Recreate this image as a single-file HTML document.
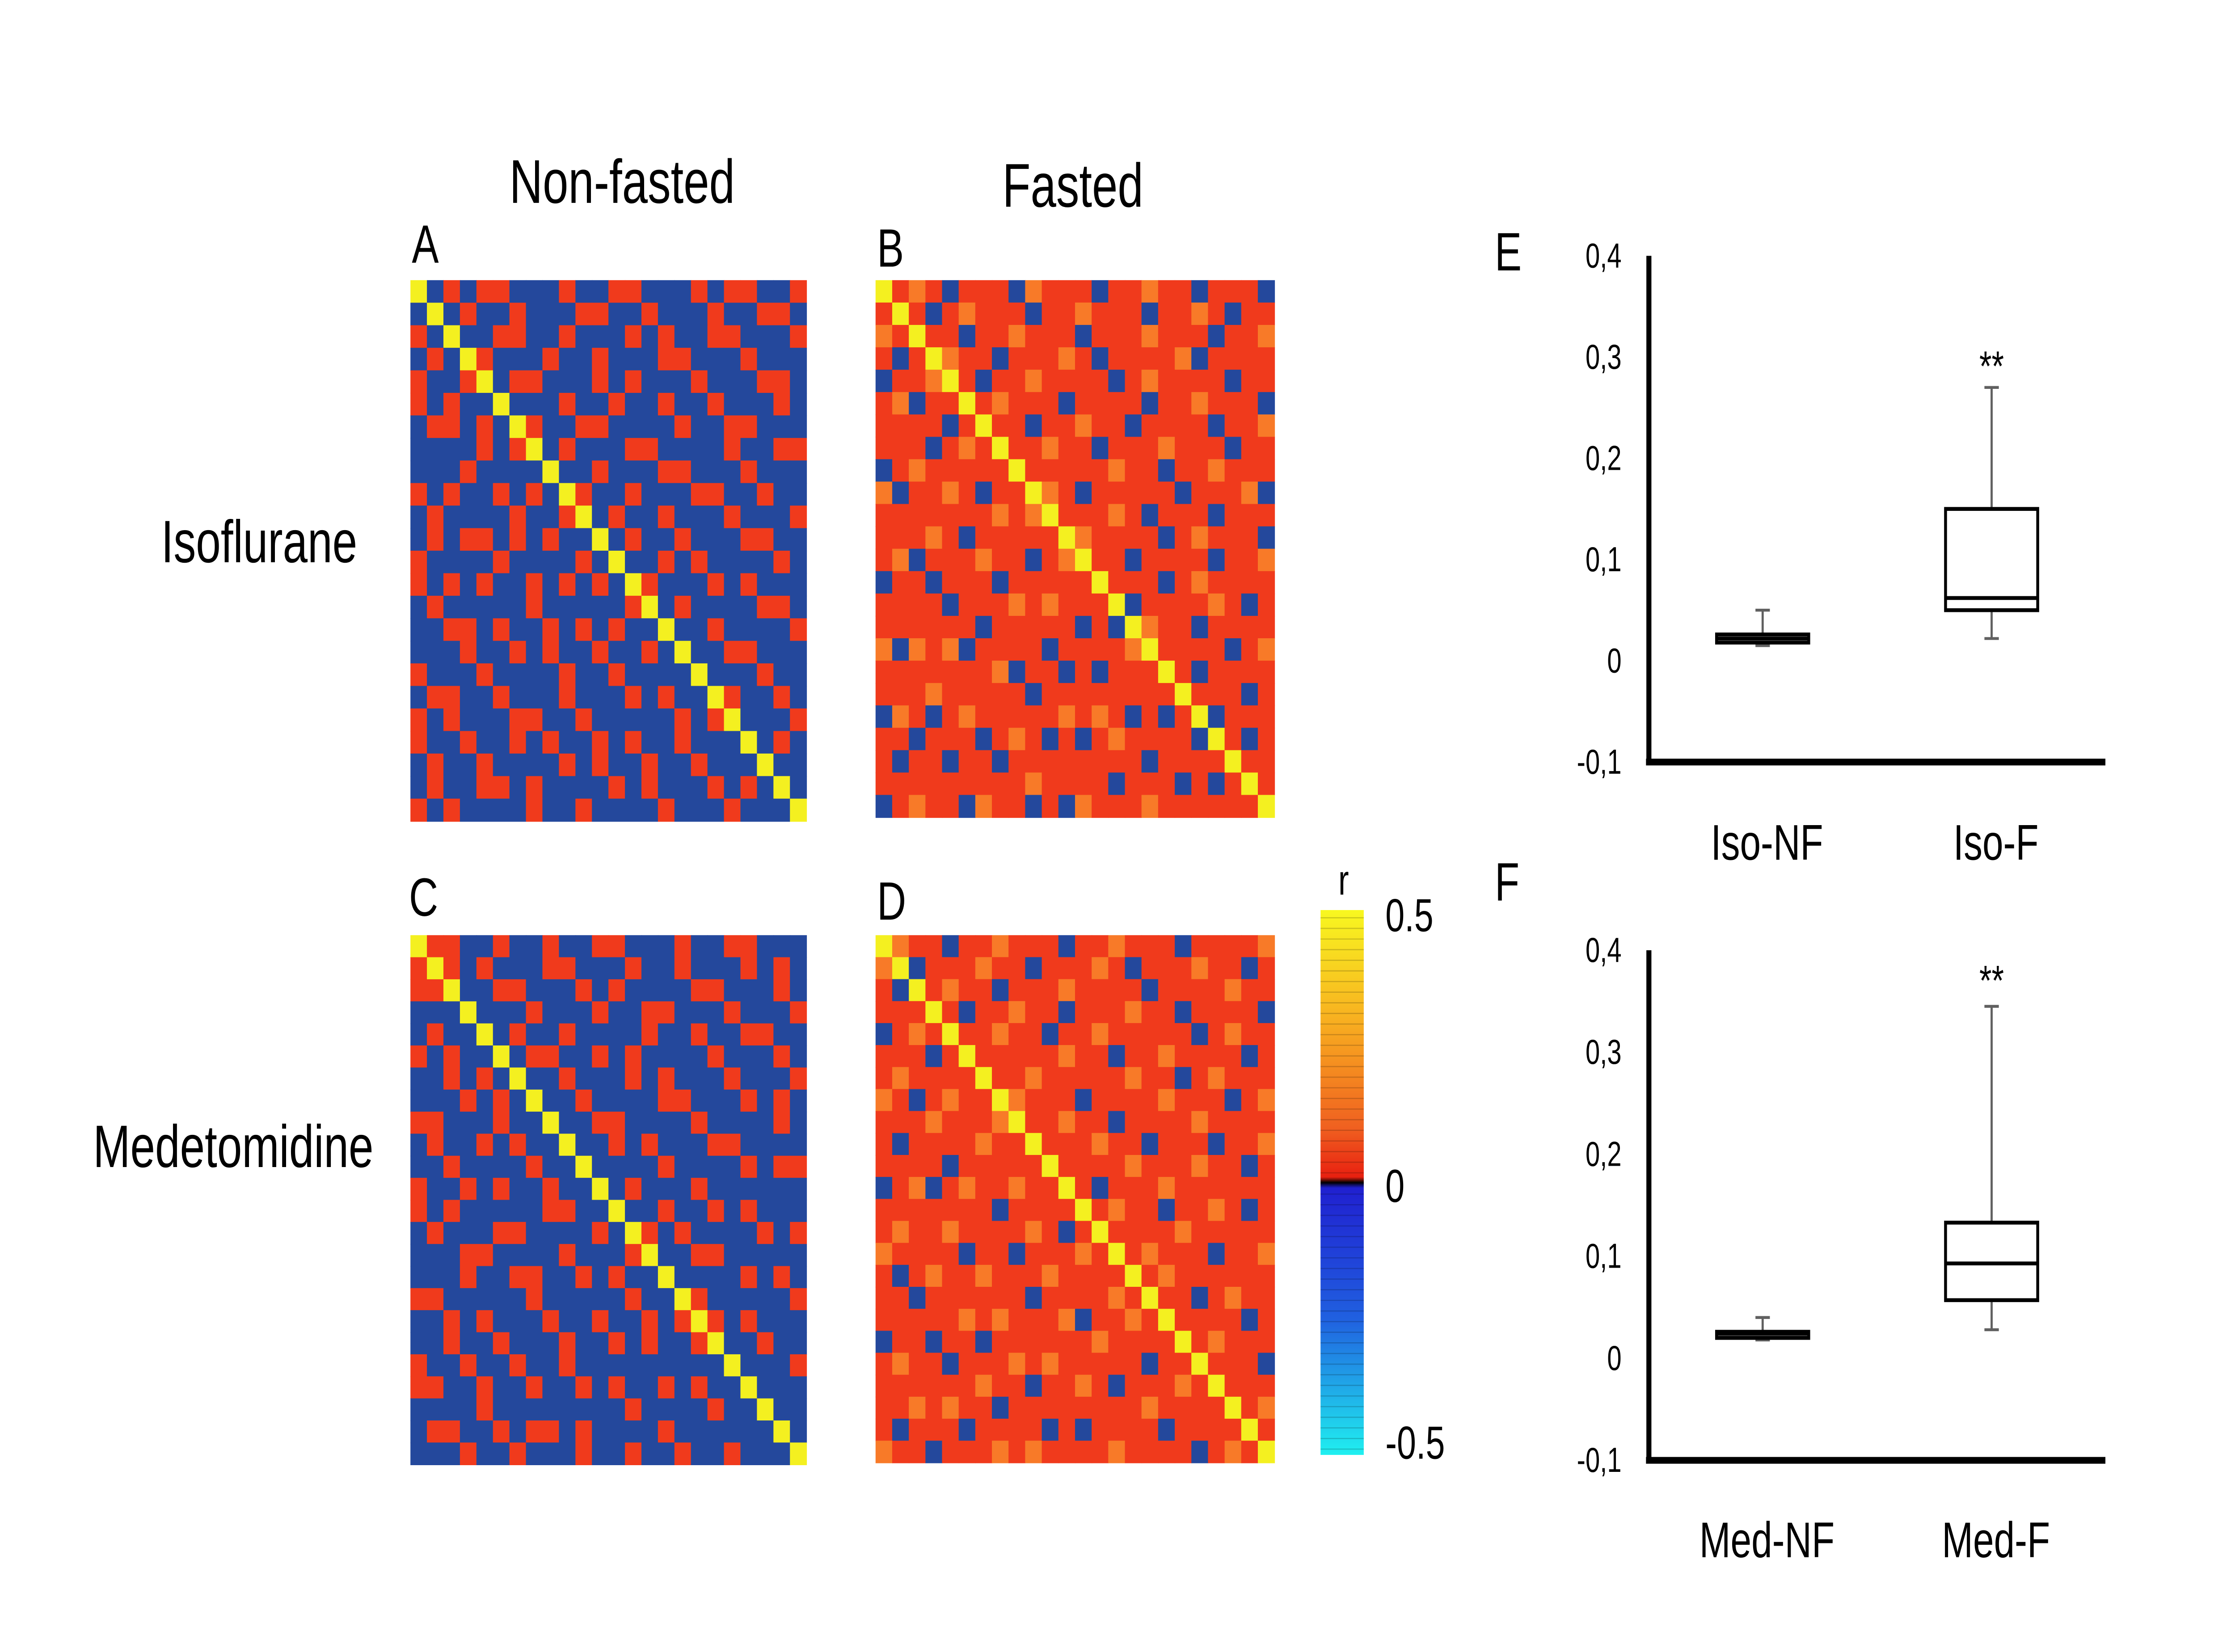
<!DOCTYPE html>
<html><head><meta charset="utf-8">
<style>
html,body{margin:0;padding:0;background:#fff;overflow:hidden;width:100%;height:100%;}
svg{display:block;position:fixed;left:0;top:0;width:100vw;height:100vh;}
text{font-family:"Liberation Sans",sans-serif;}
</style></head>
<body>
<svg id="fig" viewBox="0 0 1552 855" preserveAspectRatio="none" xmlns="http://www.w3.org/2000/svg">
<defs>
<linearGradient id="cbar" x1="0" y1="0" x2="0" y2="1">
<stop offset="0" stop-color="#f8f820"/>
<stop offset="0.2" stop-color="#f8b020"/>
<stop offset="0.4" stop-color="#f06020"/>
<stop offset="0.49" stop-color="#e82010"/>
<stop offset="0.5" stop-color="#000"/>
<stop offset="0.51" stop-color="#2020d0"/>
<stop offset="0.75" stop-color="#2060e0"/>
<stop offset="1" stop-color="#20f0f0"/>
</linearGradient>
</defs>
<rect width="1552" height="855" fill="#fff"/>
<text x="432" y="105" font-size="32" text-anchor="middle">Non-fasted</text>
<text x="745" y="107" font-size="32" text-anchor="middle">Fasted</text>
<text x="180" y="291" font-size="31" text-anchor="middle">Isoflurane</text>
<text x="162" y="604" font-size="31" text-anchor="middle">Medetomidine</text>
<text x="286" y="136" font-size="28">A</text>
<text x="609" y="138" font-size="28">B</text>
<text x="284" y="474" font-size="28">C</text>
<text x="609" y="476" font-size="28">D</text>
<text x="1038" y="140" font-size="28">E</text>
<text x="1038" y="466" font-size="28">F</text>
<g id="heatmaps"></g>
<g>
<rect x="917" y="471" width="30" height="282" fill="url(#cbar)"/>
<g id="cbstripes"></g>
<text x="933" y="463" font-size="22" text-anchor="middle">r</text>
<text x="962" y="482" font-size="24">0.5</text>
<text x="962" y="622" font-size="24">0</text>
<text x="962" y="755" font-size="24">-0.5</text>
</g>
<g id="boxE"></g>
<g id="boxF"></g>
</svg>
<script>
// heatmap data: b=-0.2, c=-0.1, r=0.15, o=0.3 (diagonal = 1)
const heatA = [
"bbrbrrbbbrbbrrbbbrbrrbbr","rbbrbbrbbbrrbbrbbbrbbrrb","brbbbrrbbrbbbrbrbbrrbbbr","rrbbrbbbrbbrbbbrrbbbrbbb",
"bbrbbbrrbbbrbrbbbrbbbrrb","rbbrrbbbbrbbrbbrbbrbbbrb","bbrbbrbrbbrrbbbbrbbrrbbb","brbbbbrbbrbbbrrbbbbrbbrr",
"rbbrbrbbrbbrbbbrrbbbrbbb","bbrbbbrbbbrbbrbbbrrbbrbb","brbbrbbrrbbbrbbrbbbrbbbr","rbrbbbrbbrbbbrbbrbbbrrbb",
"bbbrrbbbrbbrbbbrbrbbbbrb","brbbbrbrbbbbrbrbbbrbrbbb","rbbrbbbbrrbbbrbbrbbbbrrb","bbrbrbrbbbrbbbbrbbrbbbbr",
"brbbbbrbbrbbrbbbrbbrrbbb","rbbrbrbbbbrbbrbbbrbbbrbb","bbrbbbrrbbbrbbrbbbbrbbrb","brbbrbbbrbbbrbbrbrbbbbbr",
"rbbrbbrbbrbbbrbbbrbrbbrb","bbrbbrbbbrrbbbrbbbbrbrbb","brbrbbbrbbbrbbbrrbbbbbrb","rbbbrbbrbrbbrbbbbrbbrbbb"];
const heatB = [
"rrorbrrrborrrbrrorrbrrrb","rrrbrorrrbrrorrrbrrorbrr","orrrrbrrorrrbrrrorrrbrro","rbrrorrbrrrorbrrrrobrrrr",
"rrorrrbrrorrrrbrorrrrbrr","brrrbrrorrrbrrrrbrrorrrb","rrbrrorrrbrrorrbrrrrbrro","rorrrbrrrrorrbrrrorrrbrr",
"rrrbrrorbrrrrrorrbrrorrr","brorrrrbrrorbrrrrrbrrrob","rrrrbrorrrbrrrorbrrrbrrr","rbrorrrrbrrrorrrrbrorrrb",
"orrrrbrrrorbrrrbrrrrbrro","rrbrorrbrrrrrorrrbrorrrr","rrrrrbrorrbrrrrbrrrrorbr","brrorrrrbrrorbrrorrbrrrr",
"rrrbrrorrrbrrrrrbrrrrbro","rorrrbrrborrrbrorrrbrrrr","rrbrrrrorrrbrrrrbrorrrbr","brrrorbrrrrrorbrrrrrbrrr",
"rrorrrrrbrorrrrbrrorrrbr","rbrrbrorrrrbrorrrrbrrorr","orrrrrbrrorrrbrrorrrbrrr","rrbrorrrbrrrrrrbrrrorrbr"];
const heatC = [
"brrbbrbbrbbrrbbbrbbrrbbb","bbrbrbbbrrbbbrbbrbbbrbrb","rbbbbrrbbbrbrbbbbrrbbbrb","brbrbbbrbbbrbbrrbbbrbbbr",
"rbbbrbrbbrbbbbrbbrbbrrbb","bbrbbbbrrbbrbrbbbbrbbbrb","rbbrrbbbbrbbbrbrbbbrbbbr","bbbbbrbrbbrbbbbrrbbbrbrb",
"brbrbbbbrbbrrbbbbrbbbbrb","rbbbrbrbbbbbrbrbbbrrbbbb","bbrbbbbrbrbbbbbrbbbbrbrr","brbbrbbbrbbrbrbbbrbbbbbb",
"rbbbbrbrbbbbrbbrbbrbrbbb","bbrbrbbbbrbbbbrbrbbbbrbr","brbbbbrbrbbrbbbbbrrbbbbb","rbbrbbbbbrbbrbrbbbbbrbrb",
"bbbbrbrbbbrbbbbrbrbbbbbr","brbrbbbrbbbbrbbbbbrbrbbb","rbbbbrbbrbrbbbrbbbbbbrbb","bbrbbbbrbbbbbrbrbrbbbbbr",
"brbbrbrbbbrbbbbbbrbbrbbb","rbbbbbbrbrbbrbbrbbbbbrbb","bbrbrbbbbbbrbbbbrbrbbbrb","brbbbrbbrbbbbrbbbbbrbbbr"];
const heatD = [
"rorrbrrorrrbrrorrrbrrrro","rrbrrrorrbrrrorbrrrorrbr","orrrorrbrrrorrrrbrrrrorr","rbrrrbrrorrbrrrorrbrrrrb",
"rrorrrrorrbrrorrrrrbrorr","rrrbrorrrrrorrbrrorrrrbr","brrrrrbrrorrrrrorrbrorrr","rrorbrrrorrrbrrrrorrrbro",
"rrrrrorrbrrorrbrrrrorrrr","orbrrrrorrrrrorrbrrrbrro","rrrrorbrrrbrrrrorrrorrbr","rbrrrrrrorrorbrrrorrrrrr",
"rrorbrrorrrrrrorrbrrorbr","orrrrrbrrorbrrrrrrorrrrr","rrbrorrrrrrrorbrorrrbrro","rrrrrbrorbrrrrrrrorrrrrr",
"brorrrrrrorrbrorrrrbrorr","rrrbrorbrrrrrrrbrorrrrbr","orrrrrrrorrbrorrrrrrorrr","rrbrorbrrrorrrrorrbrrrrb",
"rrrrrrrorbrrrbrrrorrorrr","brorbrrrrrrorrrrbrrrrrro","rrrrrorrbrorrrorrrrbrrrr","rorbrrrrrrrrbrrorrrorbrr"];
const codeVal = {b:-0.2, c:-0.1, r:0.15, o:0.3};
// box plot data
const catsE = ["Iso-NF","Iso-F"];
const minE = [0.015, 0.022], q1E = [0.018, 0.050], medE = [0.022, 0.062], q3E = [0.026, 0.150], maxE = [0.050, 0.270];
const catsF = ["Med-NF","Med-F"];
const minF = [0.018, 0.028], q1F = [0.020, 0.057], medF = [0.024, 0.093], q3F = [0.026, 0.133], maxF = [0.040, 0.345];
const yTicks = [0.4, 0.3, 0.2, 0.1, 0, -0.1];
const yTickLabels = ["0,4","0,3","0,2","0,1","0","-0,1"];

const NS = "http://www.w3.org/2000/svg";
function el(tag, attrs, parent){const e=document.createElementNS(NS,tag);for(const k in attrs)e.setAttribute(k,attrs[k]);parent.appendChild(e);return e;}
function colorOf(v){
  if(v>=0.9) return "#f4f020";
  if(v>=0.25) return "#f87a28";
  if(v>=0) return "#f03a1c";
  if(v>=-0.15) return "#2f62b8";
  return "#24489c";
}
const hmG = document.getElementById("heatmaps");
function drawHeat(rows, x0, y0, w, h, name){
  const g = el("g",{},hmG);
  
  
  const n = rows.length, cw = w/n, ch = h/n;
  for(let i=0;i<n;i++)for(let j=0;j<n;j++){
    const v = i===j ? 1 : codeVal[(j>i ? rows[i][j] : rows[j][i])];
    const r = el("rect",{x:x0+j*cw,y:y0+i*ch,width:cw+0.3,height:ch+0.3,fill:colorOf(v)},g);
    
    
  }
}
drawHeat(heatA,285,145,275,280,"heatmap-a");
drawHeat(heatB,608,145,277,278,"heatmap-b");
drawHeat(heatC,285,484,275,274,"heatmap-c");
drawHeat(heatD,608,484,277,273,"heatmap-d");
const cs = document.getElementById("cbstripes");
for(let y=475;y<753;y+=5.5){
  const l = el("line",{x1:917,x2:947,y1:y,y2:y,stroke:"rgba(0,0,0,0.18)","stroke-width":0.6},cs);
  
  
}

function drawBox(gid, y0, pxPer, cats, mn, q1, md, q3, mx, labelY, starY){
  const g = document.getElementById(gid);
  const yS = v => y0 - v*pxPer*10;
  const xC = [1224, 1383];
  const top = yS(0.4), bot = yS(-0.1);
  const ya = el("line",{x1:1145,x2:1145,y1:top,y2:bot+1.5,stroke:"#000","stroke-width":3.5},g);
  
  
  const xa = el("line",{x1:1143,x2:1462,y1:bot,y2:bot,stroke:"#000","stroke-width":3.5},g);
  
  
  yTicks.forEach((t,i)=>{
    const tx = el("text",{x:1126,y:yS(t)+6,"font-size":18,"text-anchor":"end"},g);
    tx.textContent = yTickLabels[i];
    
    
  });
  cats.forEach((c,i)=>{
    const x = xC[i], hw = 32;
    const wl = el("line",{x1:x,x2:x,y1:yS(mx[i]),y2:yS(mn[i]),stroke:"#606060","stroke-width":1.5},g);
    
    
    [mx[i],mn[i]].forEach(v=>{
      const cap = el("line",{x1:x-5,x2:x+5,y1:yS(v),y2:yS(v),stroke:"#606060","stroke-width":1.5},g);
      
      
    });
    const b = el("rect",{x:x-hw,y:yS(q3[i]),width:hw*2,height:Math.max(yS(q1[i])-yS(q3[i]),1),fill:"#fff",stroke:"#000","stroke-width":2},g);
    
    
    const m = el("line",{x1:x-hw,x2:x+hw,y1:yS(md[i]),y2:yS(md[i]),stroke:"#000","stroke-width":2},g);
    
    
    const lt = el("text",{x:x+3,y:labelY,"font-size":26,"text-anchor":"middle"},g);
    lt.textContent = c;
    
    
  });
  const st = el("text",{x:1383,y:starY,"font-size":22,"text-anchor":"middle"},g);
  st.textContent = "**";
  
  
}
drawBox("boxE", 342, 52.4, catsE, minE, q1E, medE, q3E, maxE, 445, 197);
drawBox("boxF", 703, 52.8, catsF, minF, q1F, medF, q3F, maxF, 806, 515);
</script>
</body></html>
